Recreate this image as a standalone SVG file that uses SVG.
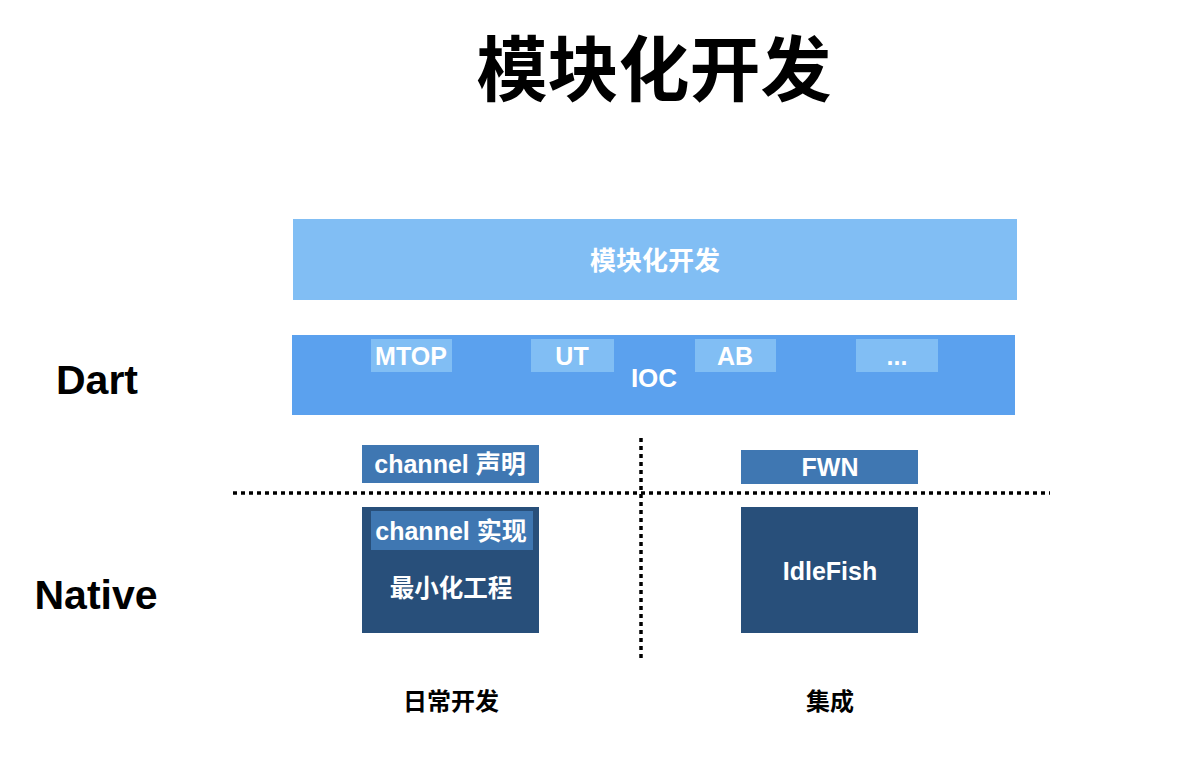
<svg xmlns="http://www.w3.org/2000/svg" width="1178" height="758" viewBox="0 0 1178 758">
<style>
.t{font-family:"Liberation Sans","Noto Sans CJK SC",sans-serif;font-weight:bold;text-anchor:middle}
.w{fill:#fff}
.k{fill:#000}
.dot{stroke:#000;stroke-width:3.5;stroke-dasharray:4 4;fill:none}
</style>
<rect width="1178" height="758" fill="#fff"/>
<text class="t k" x="654" y="95" font-size="71">模块化开发</text>
<text class="t k" x="97" y="394" font-size="41">Dart</text>
<text class="t k" x="96" y="609" font-size="41">Native</text>
<g id="top">
<rect x="293" y="219" width="724" height="81" fill="#81BEF4"/>
<text class="t w" x="655" y="270" font-size="26">模块化开发</text>
</g>
<g id="ioc">
<rect x="292" y="335" width="723" height="80" fill="#5BA1EE"/>
<text class="t w" x="654" y="387" font-size="26">IOC</text>
</g>
<g id="mtop"><rect x="371" y="339" width="81" height="33" fill="#81BEF4"/><text class="t w" x="411" y="365" font-size="25">MTOP</text></g>
<g id="ut"><rect x="531" y="339" width="83" height="33" fill="#81BEF4"/><text class="t w" x="572" y="365" font-size="25">UT</text></g>
<g id="ab"><rect x="695" y="339" width="81" height="33" fill="#81BEF4"/><text class="t w" x="735" y="365" font-size="25">AB</text></g>
<g id="more"><rect x="856" y="339" width="82" height="33" fill="#81BEF4"/><text class="t w" x="897" y="365" font-size="25">...</text></g>
<g id="decl"><rect x="362" y="445" width="177" height="38" fill="#3F77B2"/><text class="t w" x="450" y="473" font-size="25">channel 声明</text></g>
<g id="fwn"><rect x="741" y="450" width="177" height="34" fill="#3F77B2"/><text class="t w" x="830" y="476" font-size="25">FWN</text></g>
<g id="minimal"><rect x="362" y="507" width="177" height="126" fill="#284F7A"/><rect x="371" y="511" width="162" height="39" fill="#3F77B2"/><text class="t w" x="451" y="540" font-size="25">channel 实现</text><text class="t w" x="451" y="597" font-size="24.5">最小化工程</text></g>
<g id="idlefish"><rect x="741" y="507" width="177" height="126" fill="#284F7A"/><text class="t w" x="830" y="580" font-size="25">IdleFish</text></g>
<g id="connectors">
<line class="dot" x1="233" y1="493" x2="1050" y2="493"/>
<line class="dot" x1="641" y1="438" x2="641" y2="658"/>
</g>
<text class="t k" x="451" y="710" font-size="24">日常开发</text>
<text class="t k" x="830" y="710" font-size="24">集成</text>
</svg>
